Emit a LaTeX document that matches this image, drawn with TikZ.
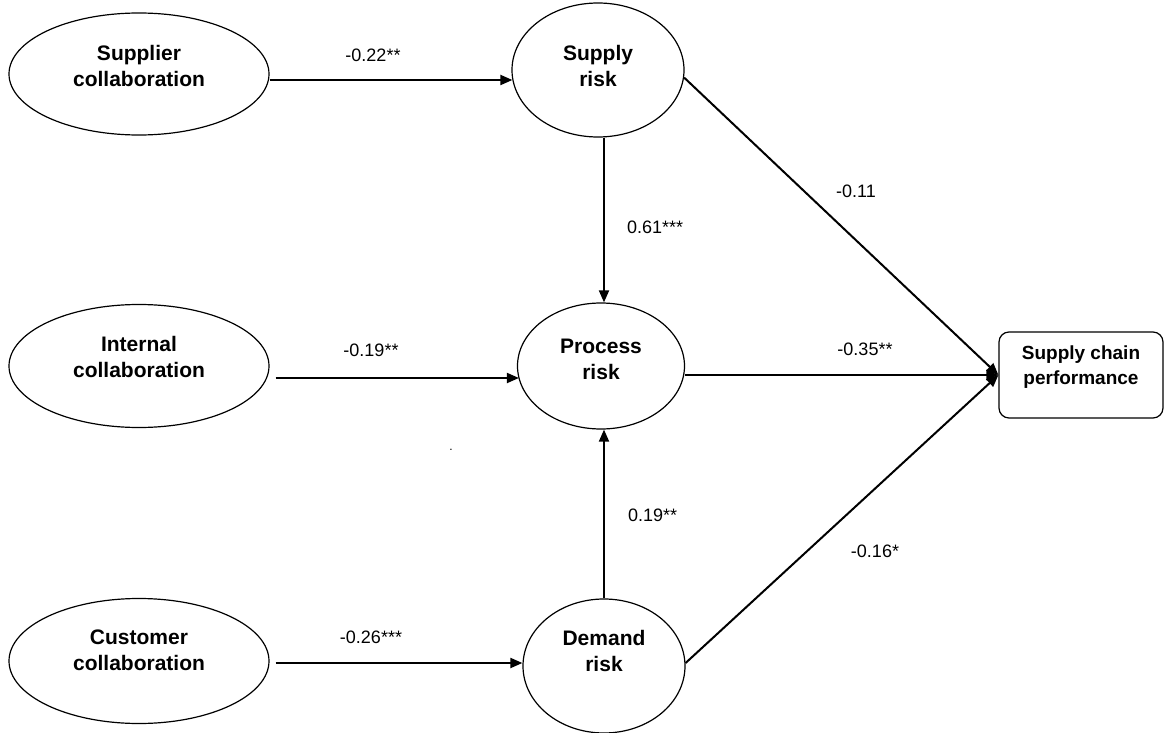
\documentclass[tikz,border=0pt]{standalone}
\usepackage{fontspec}
\setmainfont{Liberation Sans}
\usetikzlibrary{arrows.meta,calc,shapes.geometric}
\begin{document}
\begin{tikzpicture}[x=1pt,y=-1pt,
  ell/.style={draw, ellipse, line width=1.2pt, inner sep=0pt},
  ttl/.style={font=\fontsize{21}{26}\selectfont\bfseries, align=center, inner sep=0pt},
  lab/.style={font=\fontsize{18}{20}\selectfont, inner sep=0pt},
  arr/.style={line width=2pt, -{Triangle[length=12pt,width=10pt]}},
  varr/.style={line width=1.8pt, -{Triangle[length=12pt,width=10pt]}},
  ]
\useasboundingbox (0,0) rectangle (1171,733);

% nodes
\node[ell, minimum width=260pt, minimum height=122pt] (sc) at (139,74) {};
\node[ttl] (sct) at (139,66) {Supplier\\collaboration};
\node[ell, minimum width=172pt, minimum height=134pt] (sr) at (598,70) {};
\node[ttl] (srt) at (598,66) {Supply\\risk};
\node[ell, minimum width=260pt, minimum height=123pt] (ic) at (139,366) {};
\node[ttl] (ict) at (139,357) {Internal\\collaboration};
\node[ell, minimum width=167pt, minimum height=126pt] (pr) at (601,366) {};
\node[ttl] (prt) at (601,359) {Process\\risk};
\node[ell, minimum width=260pt, minimum height=125pt] (cc) at (139,661) {};
\node[ttl] (cct) at (139,650) {Customer\\collaboration};
\node[ell, minimum width=162pt, minimum height=134pt] (dr) at (604,666) {};
\node[ttl] (drt) at (604,651) {Demand\\risk};
\node[draw, rounded corners=10pt, line width=1.2pt, minimum width=164pt, minimum height=86pt] (perf) at (1081,375) {};
\node[font=\fontsize{19}{25}\selectfont\bfseries, align=center, inner sep=0pt] (perft) at (1081,367) {Supply chain\\performance};

% connectors
\draw[arr] ([shift={(0,6)}]sc.east) -- ([shift={(1,10)}]sr.west);
\draw[arr] ([shift={(6,12)}]ic.east) -- ([shift={(2,12)}]pr.west);
\draw[arr] ([shift={(6,2)}]cc.east) -- ([shift={(0,-3)}]dr.west);
\draw[varr] ([shift={(6,0)}]sr.south) -- ([shift={(3,0)}]pr.north);
\draw[varr] (dr.north) -- ([shift={(3,0)}]pr.south);
\draw[arr] (sr.-5) -- (perf.west);
\draw[arr] ([shift={(0,9)}]pr.east) -- (perf.west);
\draw[arr] ([shift={(0,-3)}]dr.east) -- (perf.west);

% labels
\node[lab] (l1) at (373,55) {-0.22**};
\node[lab] (l2) at (371,350) {-0.19**};
\node[lab] (l3) at (371,637) {-0.26***};
\node[lab, anchor=west] (l4) at (627,227) {0.61***};
\node[lab, anchor=west] (l5) at (628,515) {0.19**};
\node[lab] (l6) at (856,191) {-0.11};
\node[lab] (l7) at (865,349) {-0.35**};
\node[lab] (l8) at (875,551) {-0.16*};
\node[font=\fontsize{12}{12}\selectfont, inner sep=0pt] (dot) at (451,450) {.};
\end{tikzpicture}
\end{document}
